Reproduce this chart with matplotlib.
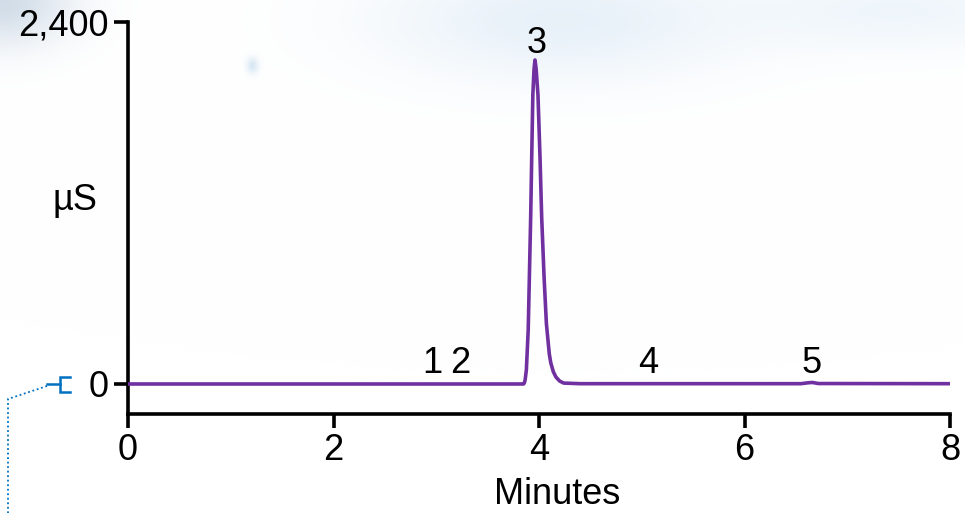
import numpy as np
import matplotlib
matplotlib.use("Agg")
import matplotlib.pyplot as plt
from matplotlib.lines import Line2D

# ---- data ----
time_min = [0.0, 3.80, 3.850, 3.858, 3.865, 3.877, 3.895, 3.919, 3.929, 3.940,
            3.952, 3.961, 3.972, 3.990, 4.010, 4.026, 4.050, 4.072, 4.100,
            4.115, 4.140, 4.165, 4.20, 4.24, 4.40, 6.55, 6.62, 6.66, 6.72, 8.0]
signal_uS = [0, 0, 0, 8, 27, 93, 358, 1107, 1500, 1916,
             2090, 2148, 2090, 1916, 1500, 1107, 700, 400, 200,
             139, 80, 46, 20, 6, 2, 2, 8, 10, 3, 2]

peak_labels = ["1", "2", "3", "4", "5"]
peak_label_x = [2.96, 3.23, 3.98, 5.06, 6.65]
peak_label_y = [73, 73, 2195, 73, 73]

x_ticks = [0, 2, 4, 6, 8]
y_ticks = [0, 2400]
y_tick_labels = ["0", "2,400"]

W, H = 965, 513
FS = 26
plt.rcParams['font.family'] = ['Liberation Sans', 'DejaVu Sans']
fig = plt.figure(figsize=(W / 100, H / 100), dpi=100)

# faint decorative background
bg = fig.add_axes([0, 0, 1, 1], zorder=-10)
yy, xx = np.mgrid[0:H, 0:W]
img = np.ones((H, W, 3))
def blob(cx, cy, rx, ry, col, strength):
    d = ((xx - cx) / rx) ** 2 + ((yy - cy) / ry) ** 2
    a = strength * np.exp(-d)
    for k in range(3):
        img[:, :, k] = img[:, :, k] * (1 - a) + col[k] * a
blob(0, 0, 70, 45, (0.80, 0.85, 0.90), 0.9)
blob(560, 20, 180, 60, (0.85, 0.91, 0.96), 0.6)
blob(900, 10, 160, 40, (0.88, 0.93, 0.97), 0.5)
blob(252, 65, 6, 8, (0.75, 0.85, 0.93), 0.6)
bg.imshow(img, aspect='auto', extent=[0, W, H, 0])
bg.set_xlim(0, W); bg.set_ylim(H, 0)
bg.axis('off')

ax = fig.add_axes([128 / W, 1 - 414 / H, (950 - 128) / W, (414 - 22) / H])
ax.patch.set_alpha(0)
ax.plot(time_min, signal_uS, color='#7030A0', lw=2.6, solid_joinstyle='round',
        solid_capstyle='round', zorder=3)

ax.set_xlim(0, 8)
ax.set_ylim(-199, 2400)
for s in ['top', 'right']:
    ax.spines[s].set_visible(False)
for s in ['left', 'bottom']:
    ax.spines[s].set_linewidth(2.6)
    ax.spines[s].set_color('black')
ax.set_xticks(x_ticks)
ax.set_xticklabels([str(v) for v in x_ticks])
ax.set_yticks(y_ticks)
ax.set_yticklabels(y_tick_labels)
ax.tick_params(axis='both', direction='out', length=10, width=2.6,
               labelsize=FS, colors='black')
ax.tick_params(axis='x', pad=4)
ax.tick_params(axis='y', pad=4)

for lab, lx, ly in zip(peak_labels, peak_label_x, peak_label_y):
    ax.text(lx, ly, lab, fontsize=FS, ha='center', va='baseline')

fig.text(75 / W, 1 - 200 / H, "µS", fontsize=FS, ha='center', va='center')
fig.text(557 / W, 1 - 494 / H, "Minutes", fontsize=FS, ha='center', va='center')

# blue bracket annotation at the zero level
blue = '#0070C0'
def fl(xs, ys, **kw):
    fig.add_artist(Line2D([x / W for x in xs], [1 - y / H for y in ys],
                          transform=fig.transFigure, color=blue, **kw))
fl([47, 60], [384, 384], lw=1.8)
fl([70, 60, 60, 70], [377, 377, 392, 392], lw=1.8, solid_joinstyle='miter')
fl([47, 8, 8], [386, 399, 513], lw=1.3, ls=(0, (1, 1.5)))

fig.savefig("out.png", dpi=100)
